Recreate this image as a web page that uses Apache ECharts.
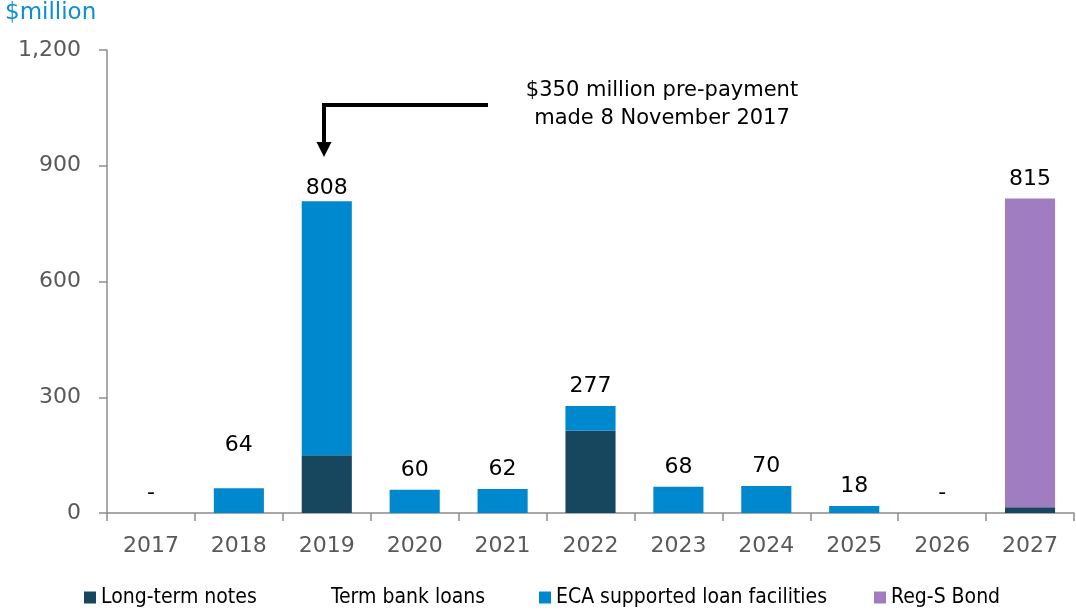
<!DOCTYPE html>
<html>
<head>
<meta charset="utf-8">
<script src="https://cdn.jsdelivr.net/npm/echarts@6/dist/echarts.min.js"></script>
<style>
  html, body { margin: 0; padding: 0; background: #fff; }
  #chart { width: 1076px; height: 611px; }
</style>
</head>
<body>
<div id="chart"></div>
<script>
const years = ['2017', '2018', '2019', '2020', '2021', '2022', '2023', '2024', '2025', '2026', '2027']
const longTermNotes = [0, 0, 150, 0, 0, 213, 0, 0, 0, 0, 15]
const termBankLoans = [0, 0, 0, 0, 0, 0, 0, 0, 0, 0, 0]
const ecaLoans = [0, 64, 658, 60, 62, 64, 68, 70, 18, 0, 0]
const regSBond = [0, 0, 0, 0, 0, 0, 0, 0, 0, 0, 800]
const totals = [0, 64, 808, 60, 62, 277, 68, 70, 18, 0, 815]

const font = 'DejaVu Sans'
const chart = echarts.init(document.getElementById('chart'))

const barSeries = (name, data, color) => ({
  name,
  type: 'bar',
  stack: 'debt',
  data,
  barWidth: '57%',
  itemStyle: { color },
  emphasis: { disabled: true }
})

// one legend block per series so each sits where the reference has it
const legendAt = (name, left) => ({
  data: [{ name, icon: 'rect' }],
  left,
  top: 587,
  padding: 0,
  itemWidth: 12,
  itemHeight: 12,
  selectedMode: false,
  textStyle: { fontFamily: 'DejaVu Sans Condensed', fontSize: 21, color: '#000' }
})

// the 2018 label sits higher and the 2019 one a bit lower in the original
const totalData = totals.map((v, i) => {
  if (years[i] === '2018') return { value: v, label: { offset: [0, -24] } }
  if (years[i] === '2019') return { value: v, label: { offset: [0, 7] } }
  return v
})

chart.setOption({
  animation: false,
  textStyle: { fontFamily: font },
  grid: { left: 107, right: 2, top: 50, bottom: 98 },
  legend: [
    legendAt('Long-term notes', 84),
    legendAt('Term bank loans', 314),
    legendAt('ECA supported loan facilities', 539),
    legendAt('Reg-S Bond', 874)
  ],
  xAxis: {
    type: 'category',
    data: years,
    axisLine: { lineStyle: { color: '#8c8c8c', width: 1.5 } },
    axisTick: { show: true, length: 8, lineStyle: { color: '#8c8c8c', width: 1.5 } },
    axisLabel: { fontSize: 22, color: '#595959', margin: 22 }
  },
  yAxis: {
    type: 'value',
    min: 0,
    max: 1200,
    interval: 300,
    splitLine: { show: false },
    axisLine: { show: true, lineStyle: { color: '#8c8c8c', width: 1.5 } },
    axisTick: { show: true, length: 8, lineStyle: { color: '#8c8c8c', width: 1.5 } },
    axisLabel: {
      fontSize: 22,
      color: '#595959',
      margin: 26,
      formatter: v => v.toLocaleString('en-US')
    }
  },
  series: [
    barSeries('Long-term notes', longTermNotes, '#17475f'),
    barSeries('Term bank loans', termBankLoans, 'rgba(255,255,255,0)'),
    barSeries('ECA supported loan facilities', ecaLoans, '#0088ce'),
    barSeries('Reg-S Bond', regSBond, '#a07cc1'),
    {
      name: 'total',
      type: 'line',
      data: totalData,
      symbol: 'circle',
      symbolSize: 1,
      showSymbol: true,
      itemStyle: { color: 'rgba(0,0,0,0)' },
      lineStyle: { width: 0, color: 'rgba(0,0,0,0)' },
      label: {
        show: true,
        position: 'top',
        distance: 8,
        fontSize: 22,
        color: '#000',
        formatter: p => (p.value === 0 ? '-' : String(p.value))
      },
      emphasis: { disabled: true },
      silent: true
    }
  ]
})

// annotation arrow pointing at 2019
const tip = chart.convertToPixel({ xAxisIndex: 0, yAxisIndex: 0 }, ['2019', 1000])
const x0 = Math.round(tip[0]) - 3
chart.setOption({
  graphic: [
    {
      type: 'text',
      left: 5,
      top: 2,
      style: { text: '$million', fontSize: 23, fill: '#0c8ed6', fontFamily: font }
    },
    {
      type: 'text',
      x: 662,
      y: 77,
      style: {
        text: '$350 million pre-payment\nmade 8 November 2017',
        fontSize: 21,
        lineHeight: 28,
        fill: '#000',
        align: 'center',
        fontFamily: font
      }
    },
    {
      type: 'polyline',
      shape: { points: [[488, 105], [x0, 105], [x0, 144]] },
      style: { stroke: '#000', lineWidth: 4, fill: null }
    },
    {
      type: 'polygon',
      shape: { points: [[x0 - 7.5, 142], [x0 + 7.5, 142], [x0, 157]] },
      style: { fill: '#000' }
    }
  ]
})
</script>
</body>
</html>
